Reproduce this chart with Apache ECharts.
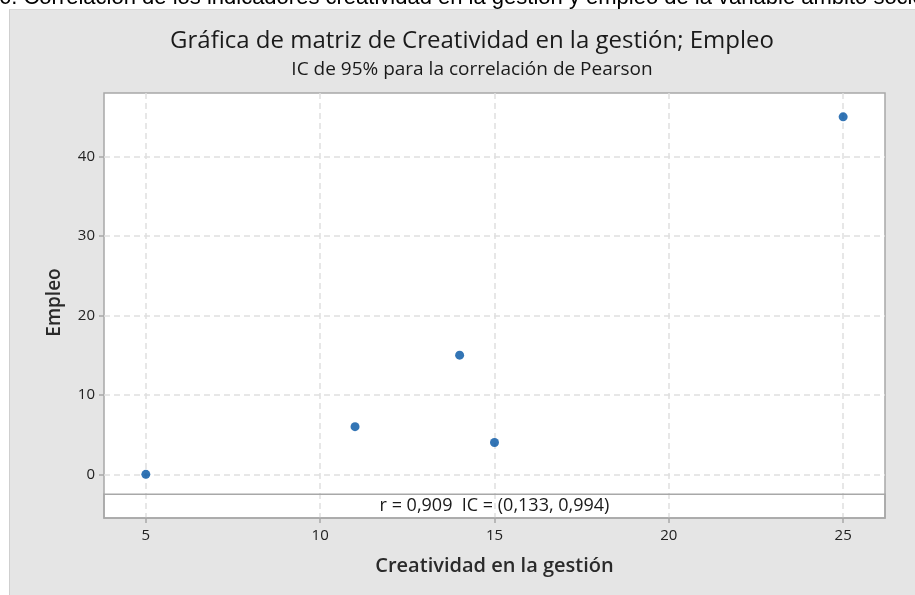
<!DOCTYPE html>
<html>
<head>
<meta charset="utf-8">
<script src="https://cdn.jsdelivr.net/npm/echarts@6/dist/echarts.min.js"></script>
<style>
  html, body { margin: 0; padding: 0; background: #fff; }
  #wrap { position: relative; width: 915px; height: 595px; overflow: hidden; }
  #panel {
    position: absolute; left: 9px; top: 9px; width: 910px; height: 590px;
    background: #e5e5e5; border-left: 1px solid #cfcfcf; border-top: 1px solid #d8d8d8;
  }
  #main { position: absolute; left: 0; top: 0; width: 915px; height: 595px; }
</style>
</head>
<body>
<div id="wrap">
  <div id="panel"></div>
  <div id="main"></div>
</div>
<script>
// datos
const creatividad = [5, 11, 14, 15, 25]
const empleo = [0, 6, 15, 4, 45]
const xTicks = [5, 10, 15, 20, 25]
const yTicks = [0, 10, 20, 30, 40]
const anotacion = 'r = 0,909  IC = (0,133, 0,994)'
const leyenda = '6. Correlación de los indicadores creatividad en la gestión y empleo de la variable ámbito socio'

const font = '"Open Sans", "Noto Sans", sans-serif'
const gridColor = '#e0e0e0'
const borderColor = '#a8a8a8'

const chart = echarts.init(document.getElementById('main'), null, { renderer: 'canvas' })

chart.setOption({
  backgroundColor: 'transparent',
  animation: false,
  textStyle: { fontFamily: font },
  graphic: [{
    type: 'text',
    left: -1,
    top: -13,
    style: {
      text: leyenda,
      font: '22px "Liberation Sans", Arial, sans-serif',
      fill: '#000'
    }
  }],
  title: [{
    text: 'Gráfica de matriz de Creatividad en la gestión; Empleo',
    left: 467,
    top: 24,
    textAlign: 'center',
    textStyle: { fontFamily: font, fontSize: 24, fontWeight: 'normal', color: '#1a1a1a' }
  }, {
    text: 'IC de 95% para la correlación de Pearson',
    left: 467,
    top: 55,
    textAlign: 'center',
    textStyle: { fontFamily: font, fontSize: 19, fontWeight: 'normal', color: '#1a1a1a' }
  }],
  grid: {
    left: 104,
    right: 30,
    top: 93,
    bottom: 77,
    show: true,
    backgroundColor: '#fff',
    borderColor: borderColor,
    borderWidth: 1.5
  },
  xAxis: {
    type: 'value',
    min: 3.8,
    max: 26.2,
    name: 'Creatividad en la gestión',
    nameLocation: 'middle',
    nameGap: 38,
    nameTextStyle: { fontFamily: font, fontSize: 20, fontWeight: 600, color: '#2a2a2a' },
    axisLine: { show: false, onZero: false },
    axisTick: { show: true, length: 5, customValues: xTicks, lineStyle: { color: borderColor, width: 1.5 } },
    axisLabel: { customValues: xTicks, margin: 10, fontSize: 15, color: '#222' },
    splitLine: { show: true, lineStyle: { color: gridColor, width: 1.5, type: [6, 4] } }
  },
  yAxis: {
    type: 'value',
    min: -5.5,
    max: 48,
    name: 'Empleo',
    nameLocation: 'middle',
    nameGap: 40,
    nameTextStyle: { fontFamily: font, fontSize: 19, fontWeight: 600, color: '#2a2a2a', padding: [0, 0, 0, 6] },
    axisLine: { show: false, onZero: false },
    axisTick: { show: true, length: 5, customValues: yTicks, lineStyle: { color: borderColor, width: 1.5 } },
    axisLabel: { customValues: yTicks, margin: 9, fontSize: 15, color: '#222' },
    splitLine: { show: true, lineStyle: { color: gridColor, width: 1.5, type: [6, 4] } }
  },
  series: [{
    type: 'scatter',
    data: creatividad.map((x, i) => [x, empleo[i]]),
    symbol: 'circle',
    symbolSize: 9,
    itemStyle: { color: '#0052a3' },
    markArea: {
      silent: true,
      itemStyle: { color: 'rgba(255,255,255,0)', borderColor: borderColor, borderWidth: 1.5 },
      label: {
        show: true,
        position: 'inside',
        formatter: anotacion,
        fontFamily: font,
        fontSize: 18,
        color: '#1a1a1a'
      },
      data: [[{ xAxis: 3.8, yAxis: -5.5 }, { xAxis: 26.2, yAxis: -2.5 }]]
    }
  }]
})
</script>
</body>
</html>
